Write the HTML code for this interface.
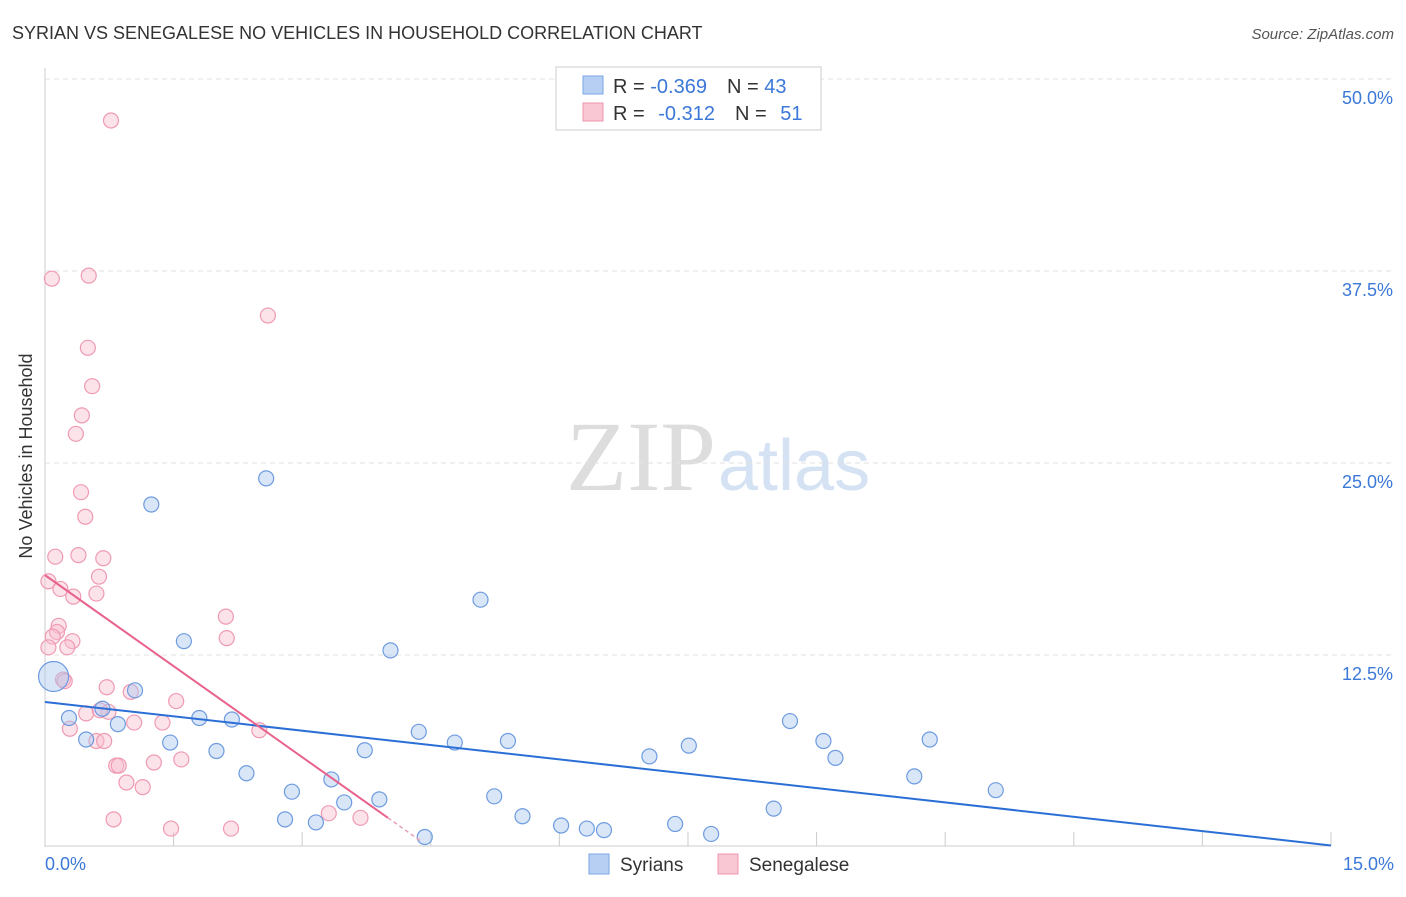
<!DOCTYPE html>
<html><head><meta charset="utf-8"><style>
body{margin:0;background:#fff;font-family:"Liberation Sans",sans-serif}
svg text{font-family:"Liberation Sans",sans-serif}
svg text.serif{font-family:"Liberation Serif",serif}
</style></head><body>
<svg id="c" width="1406" height="892" xmlns="http://www.w3.org/2000/svg">
<text x="12" y="39" font-size="18" fill="#333">SYRIAN VS SENEGALESE NO VEHICLES IN HOUSEHOLD CORRELATION CHART</text>
<text x="1394" y="39" font-size="15" fill="#555" text-anchor="end" font-style="italic">Source: ZipAtlas.com</text>
<text x="32" y="456" font-size="18" fill="#333" text-anchor="middle" transform="rotate(-90 32 456)">No Vehicles in Household</text>
<text class="serif" x="716" y="490" font-size="100" fill="#ddd" text-anchor="end">ZIP</text>
<text x="718" y="490" font-size="72" fill="#d4e2f4">atlas</text>
<g id="grid"></g><g id="marks"></g>
<g>
<rect x="556" y="67" width="265" height="63" fill="#fff" stroke="#ccc"/>
<rect x="583" y="76" width="20" height="18" fill="#b7cff3" stroke="#7aa5e6"/>
<rect x="583" y="103" width="20" height="18" fill="#f9c6d3" stroke="#ef95ae"/>
<text x="613" y="93" font-size="20" fill="#333">R = <tspan fill="#3b78d8">-0.369</tspan><tspan dx="20">N = </tspan><tspan fill="#3b78d8">43</tspan></text>
<text x="613" y="120" font-size="20" fill="#333">R = <tspan dx="8" fill="#3b78d8">-0.312</tspan><tspan dx="20">N = </tspan><tspan dx="8" fill="#3b78d8">51</tspan></text>
</g>
<g>
<rect x="589" y="854" width="20" height="20" fill="#b7cff3" stroke="#7aa5e6"/>
<text x="620" y="871" font-size="19" fill="#333">Syrians</text>
<rect x="718" y="854" width="20" height="20" fill="#f9c6d3" stroke="#ef95ae"/>
<text x="749" y="871" font-size="19" fill="#333">Senegalese</text>
</g>
</svg>
<script>
const yTicks=[12.5,25,37.5,50];
const xTickLabels=["0.0%","15.0%"];
const syrX=[0.1,0.28,0.48,0.67,0.85,1.05,1.24,1.46,1.62,1.8,2.0,2.18,2.35,2.58,2.8,2.88,3.16,3.34,3.49,3.73,3.9,4.03,4.36,4.43,4.78,5.08,5.24,5.4,5.57,6.02,6.32,6.52,7.05,7.35,7.51,7.77,8.5,8.69,9.08,9.22,10.14,10.32,11.09];
const syrY=[11.1,8.4,7.0,9.0,8.0,10.2,22.3,6.8,13.4,8.4,6.25,8.3,4.8,24.0,1.8,3.6,1.6,4.4,2.9,6.3,3.1,12.8,7.5,0.65,6.8,16.1,3.3,6.9,2.0,1.4,1.2,1.1,5.9,1.5,6.6,0.85,2.5,8.2,6.9,5.8,4.6,7.0,3.7];
const senX=[0.77,0.08,0.51,2.6,0.5,0.55,0.43,0.36,0.42,0.47,0.12,0.39,0.68,0.63,0.04,0.18,0.6,0.33,2.11,0.16,0.14,0.09,0.32,2.12,0.26,0.04,0.21,0.72,1.0,1.53,0.48,0.74,0.29,1.04,1.37,2.5,0.6,0.69,0.83,0.86,1.27,1.59,0.95,1.14,0.8,1.47,2.17,3.31,3.68,0.23,0.64];
const senY=[47.3,37.0,37.2,34.6,32.5,30.0,28.1,26.9,23.1,21.5,18.9,19.0,18.8,17.6,17.3,16.8,16.5,16.3,15.0,14.4,14.0,13.7,13.4,13.6,13.0,13.0,10.9,10.4,10.1,9.5,8.7,8.8,7.7,8.1,8.1,7.6,6.9,6.9,5.3,5.3,5.5,5.7,4.2,3.9,1.8,1.2,1.2,2.2,1.9,10.8,8.9];
const syrTrend=[9.44,0.1], senTrend=[17.7,1.9], senEnd=4.0;
const NS="http://www.w3.org/2000/svg";
const X=v=>45+v*85.73, Y=v=>847-v*15.36;
const g=document.getElementById('grid'), m=document.getElementById('marks');
function el(t,a,p){const e=document.createElementNS(NS,t);for(const k in a)e.setAttribute(k,a[k]);p.appendChild(e);return e;}
const ax=el('line',{x1:45,y1:68,x2:45,y2:847,stroke:'#ccc'},g);


const bx=el('line',{x1:45,y1:846,x2:1331,y2:846,stroke:'#ccc'},g);


yTicks.forEach(t=>{
 const l=el('line',{x1:45,y1:Y(t),x2:1394,y2:Y(t),stroke:'#e2e2e2','stroke-dasharray':'5,4'},g);
 
 
 const tx=el('text',{x:1393,y:Y(t)+25,'font-size':18,fill:'#3b78d8','text-anchor':'end'},g);
 tx.textContent=t.toFixed(1)+'%';
 
 
});
for(let i=1;i<=10;i++){const l=el('line',{x1:X(i*1.5),y1:832,x2:X(i*1.5),y2:846,stroke:'#ccc'},g);
 
 }
[[0,'start',45],[1,'end',1394]].forEach(([i,a,x])=>{const t=el('text',{x:x,y:870,'font-size':18,fill:'#3b78d8','text-anchor':a},g);t.textContent=xTickLabels[i];
 
 });
senX.forEach((v,i)=>{const c=el('circle',{cx:X(v),cy:Y(senY[i]),r:7.5,fill:'rgba(249,190,206,0.45)',stroke:'#ef9ab2','stroke-width':1.2},m);
 
 });
syrX.forEach((v,i)=>{const c=el('circle',{cx:X(v),cy:Y(syrY[i]),r:i==0?15:7.5,fill:'rgba(170,199,240,0.45)',stroke:'#6d9be0','stroke-width':1.2},m);
 
 });
const tb=el('line',{x1:X(0),y1:Y(syrTrend[0]),x2:X(15),y2:Y(syrTrend[1]),stroke:'#2b6fd6','stroke-width':2},m);


const sl=(senTrend[1]-senTrend[0])/senEnd;
const tp=el('line',{x1:X(0),y1:Y(senTrend[0]),x2:X(senEnd),y2:Y(senTrend[1]),stroke:'#e8628c','stroke-width':2},m);


const td=el('line',{x1:X(senEnd),y1:Y(senTrend[1]),x2:X(4.4),y2:Y(senTrend[0]+sl*4.4),stroke:'#e8a0b6','stroke-width':1.5,'stroke-dasharray':'4,3'},m);


</script>
</body></html>
